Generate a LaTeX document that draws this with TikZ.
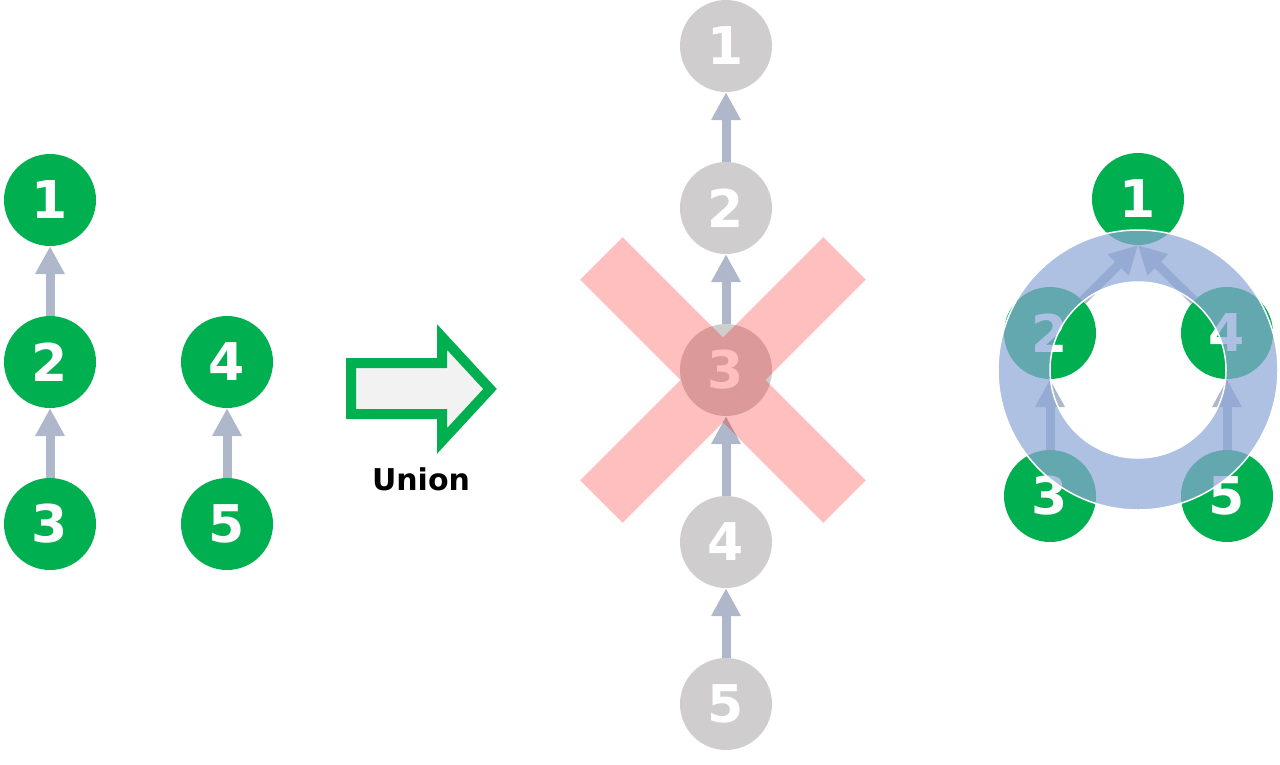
\documentclass[tikz,border=0pt]{standalone}
\usepackage{fontspec}
\setmainfont{DejaVu Sans}
\usetikzlibrary{arrows.meta}
\definecolor{gr}{HTML}{00B050}
\definecolor{greyc}{HTML}{CFCDCE}
\definecolor{arr}{HTML}{AEB8CA}
\definecolor{ringc}{RGB}{141,166,215}
\definecolor{bigfill}{HTML}{F2F2F2}
\begin{document}
\begin{tikzpicture}[x=1pt,y=-1pt,
  gnode/.style={circle,fill=gr,text=white,minimum size=92pt,inner sep=0pt,font=\fontsize{52}{52}\selectfont\bfseries},
  ynode/.style={gnode,fill=greyc},
  link/.style={draw=arr,line width=9pt,-{Triangle[length=28pt,width=28pt]}},
  cross/.style={fill=red,fill opacity=0.25},
  ring/.style={fill=ringc,fill opacity=0.7,even odd rule},
  bigarrow/.style={draw=gr,fill=bigfill,line width=10pt,miter limit=10}]
\useasboundingbox (0,0) rectangle (1280,764);
% left
\node[gnode] (a1) at (50,200) {1};
\node[gnode] (a2) at (50,362) {2};
\node[gnode] (a3) at (50,524) {3};
\node[gnode] (a4) at (227,362) {4};
\node[gnode] (a5) at (227,524) {5};
\draw[link] (a2) -- (a1);
\draw[link] (a3) -- (a2);
\draw[link] (a5) -- (a4);
% big arrow
\draw[bigarrow] (351,363) -- (442,363) -- (442,337) -- (490,389) -- (442,441) -- (442,414) -- (351,414) -- cycle;
\node[font=\fontsize{30}{30}\selectfont\bfseries] (u) at (421,479) {Union};
% middle
\node[ynode] (b1) at (726,46) {1};
\node[ynode] (b2) at (726,208) {2};
\node[ynode] (b3) at (726,370) {3};
\node[ynode] (b4) at (726,542) {4};
\node[ynode] (b5) at (726,704) {5};
\draw[link] (b2) -- (b1);
\draw[link] (b3) -- (b2);
\draw[link] (b4) -- (b3);
\draw[link] (b5) -- (b4);
\fill[cross] (622.6,237.2) -- (723,337.6) -- (823.4,237.2) -- (865.8,279.6) -- (765.4,380) -- (865.8,480.4) -- (823.4,522.8) -- (723,422.4) -- (622.6,522.8) -- (580.2,480.4) -- (680.6,380) -- (580.2,279.6) -- cycle;
% right
\node[gnode] (c1) at (1138,199) {1};
\node[gnode] (c2) at (1050,333) {2};
\node[gnode] (c4) at (1227,333) {4};
\node[gnode] (c3) at (1050,496) {3};
\node[gnode] (c5) at (1227,496) {5};
\draw[link] (c3) -- (c2);
\draw[link] (c5) -- (c4);
\draw[link] (c2) -- (c1.south);
\draw[link] (c4) -- (c1.south);
\fill[ring] (1138,370) circle[radius=140] (1138,370) circle[radius=88];
\draw[white,line width=1.5pt] (1138,370) circle[radius=140] (1138,370) circle[radius=88];
\end{tikzpicture}
\end{document}
